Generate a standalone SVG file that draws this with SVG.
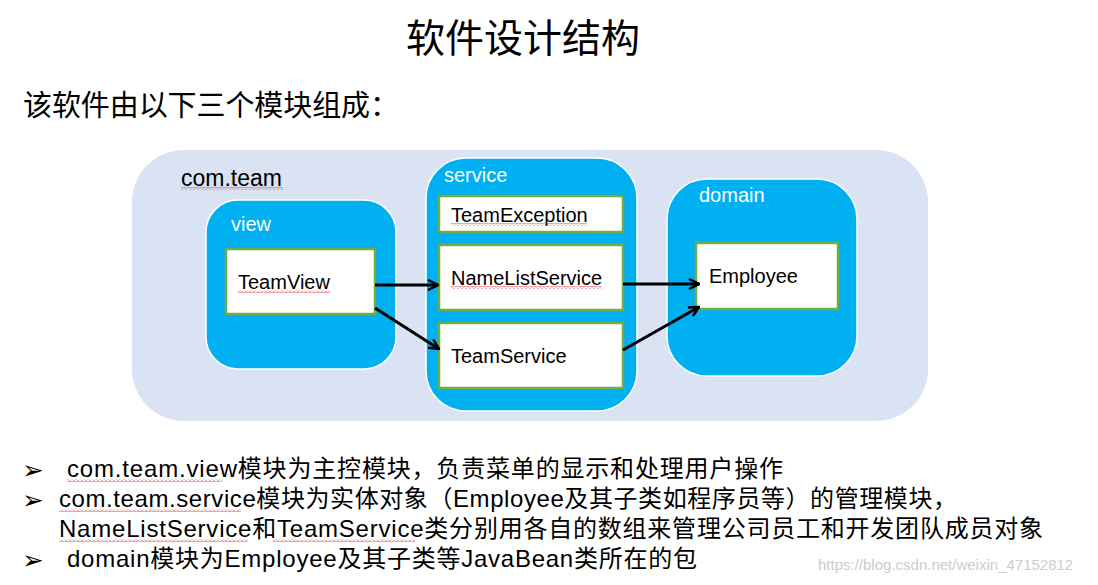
<svg xmlns="http://www.w3.org/2000/svg" width="1098" height="585" viewBox="0 0 1098 585">
<style>
.bl{font-family:"DejaVu Sans",sans-serif;font-size:26px;font-weight:bold;fill:#000}
.cj{font-family:"Liberation Sans","Noto Sans CJK SC",sans-serif;fill:#000}
.pkg{fill:#00B0F0;stroke:#ffffff;stroke-width:1.5}
.lbl{font-family:"Liberation Sans",Arial,sans-serif;font-size:20px;fill:#ffffff}
.cls{fill:#ffffff;stroke:#70AD47;stroke-width:2.5}
.ct{font-family:"Liberation Sans",Arial,sans-serif;font-size:20px;fill:#000}
.con{stroke:#000;stroke-width:3;fill:none;marker-end:url(#ah)}
.sq{fill:url(#zz)}
</style>
<defs>
<marker id="ah" viewBox="0 0 12 12" refX="11" refY="6" markerWidth="12" markerHeight="12" markerUnits="userSpaceOnUse" orient="auto">
<path d="M1,1 L11,6 L1,11" fill="none" stroke="#000" stroke-width="2.5"/>
</marker>
<pattern id="zz" width="4" height="3" patternUnits="userSpaceOnUse">
<path d="M0,2.5 L2,0.5 L4,2.5" fill="none" stroke="#E53333" stroke-width="0.9"/>
</pattern>
</defs>
<rect width="1098" height="585" fill="#ffffff"/>
<text class="cj" x="523" y="52" font-size="39" text-anchor="middle">软件设计结构</text>
<text class="cj" x="23" y="116" font-size="29" textLength="376" lengthAdjust="spacing">该软件由以下三个模块组成：</text>

<g id="com-team">
<rect x="132" y="150" width="796" height="271" rx="52" fill="#DAE3F3"/>
<text class="cj" x="181" y="186" font-size="23">com.team</text>
<rect class="sq" x="181" y="187" width="102" height="3"/>
</g>

<g id="view">
<rect class="pkg" x="206" y="200" width="190" height="169" rx="32"/>
<text class="lbl" x="231" y="231">view</text>
</g>
<g id="teamview">
<rect class="cls" x="226" y="249" width="149" height="65"/>
<text class="ct" x="238" y="289">TeamView</text>
<rect class="sq" x="238" y="290" width="92" height="3"/>
</g>

<g id="service">
<rect class="pkg" x="426" y="158" width="211" height="253" rx="40"/>
<text class="lbl" x="444" y="182">service</text>
</g>
<g id="teamexception">
<rect class="cls" x="439" y="196" width="184" height="36"/>
<text class="ct" x="451" y="222">TeamException</text>
<rect class="sq" x="451" y="223" width="136" height="3"/>
</g>
<g id="namelistservice">
<rect class="cls" x="439" y="245" width="184" height="65"/>
<text class="ct" x="451" y="285">NameListService</text>
<rect class="sq" x="451" y="286" width="151" height="3"/>
</g>
<g id="teamservice">
<rect class="cls" x="439" y="323" width="184" height="65"/>
<text class="ct" x="451" y="363">TeamService</text>
</g>

<g id="domain">
<rect class="pkg" x="667" y="179" width="190" height="197" rx="40"/>
<text class="lbl" x="699" y="202">domain</text>
</g>
<g id="employee">
<rect class="cls" x="696" y="243" width="142" height="66"/>
<text class="ct" x="709" y="283">Employee</text>
</g>

<g id="connectors">
<line class="con" x1="375" y1="285" x2="438" y2="285"/>
<line class="con" x1="375" y1="308" x2="439" y2="349"/>
<line class="con" x1="623" y1="284" x2="699" y2="284"/>
<line class="con" x1="623" y1="350" x2="699" y2="307"/>
</g>

<g id="notes">
<text class="bl" x="22" y="479">➢</text>
<text class="cj" x="67" y="477" font-size="24" textLength="716" lengthAdjust="spacing">com.team.view模块为主控模块，负责菜单的显示和处理用户操作</text>
<rect class="sq" x="67" y="479" width="155" height="3"/>
<text class="bl" x="22" y="509">➢</text>
<text class="cj" x="59" y="507" font-size="24" textLength="898" lengthAdjust="spacing">com.team.service模块为实体对象（Employee及其子类如程序员等）的管理模块，</text>
<rect class="sq" x="59" y="509" width="182" height="3"/>
<text class="cj" x="59" y="537" font-size="24" textLength="984" lengthAdjust="spacing">NameListService和TeamService类分别用各自的数组来管理公司员工和开发团队成员对象</text>
<rect class="sq" x="59" y="539" width="189" height="3"/>
<rect class="sq" x="273" y="539" width="142" height="3"/>
<text class="bl" x="22" y="569">➢</text>
<text class="cj" x="67" y="567" font-size="24" textLength="630" lengthAdjust="spacing">domain模块为Employee及其子类等JavaBean类所在的包</text>
<text x="818" y="570" font-family="'Liberation Sans',Arial,sans-serif" font-size="15" fill="#cccccc">https://blog.csdn.net/weixin_47152812</text>
</g>
</svg>
